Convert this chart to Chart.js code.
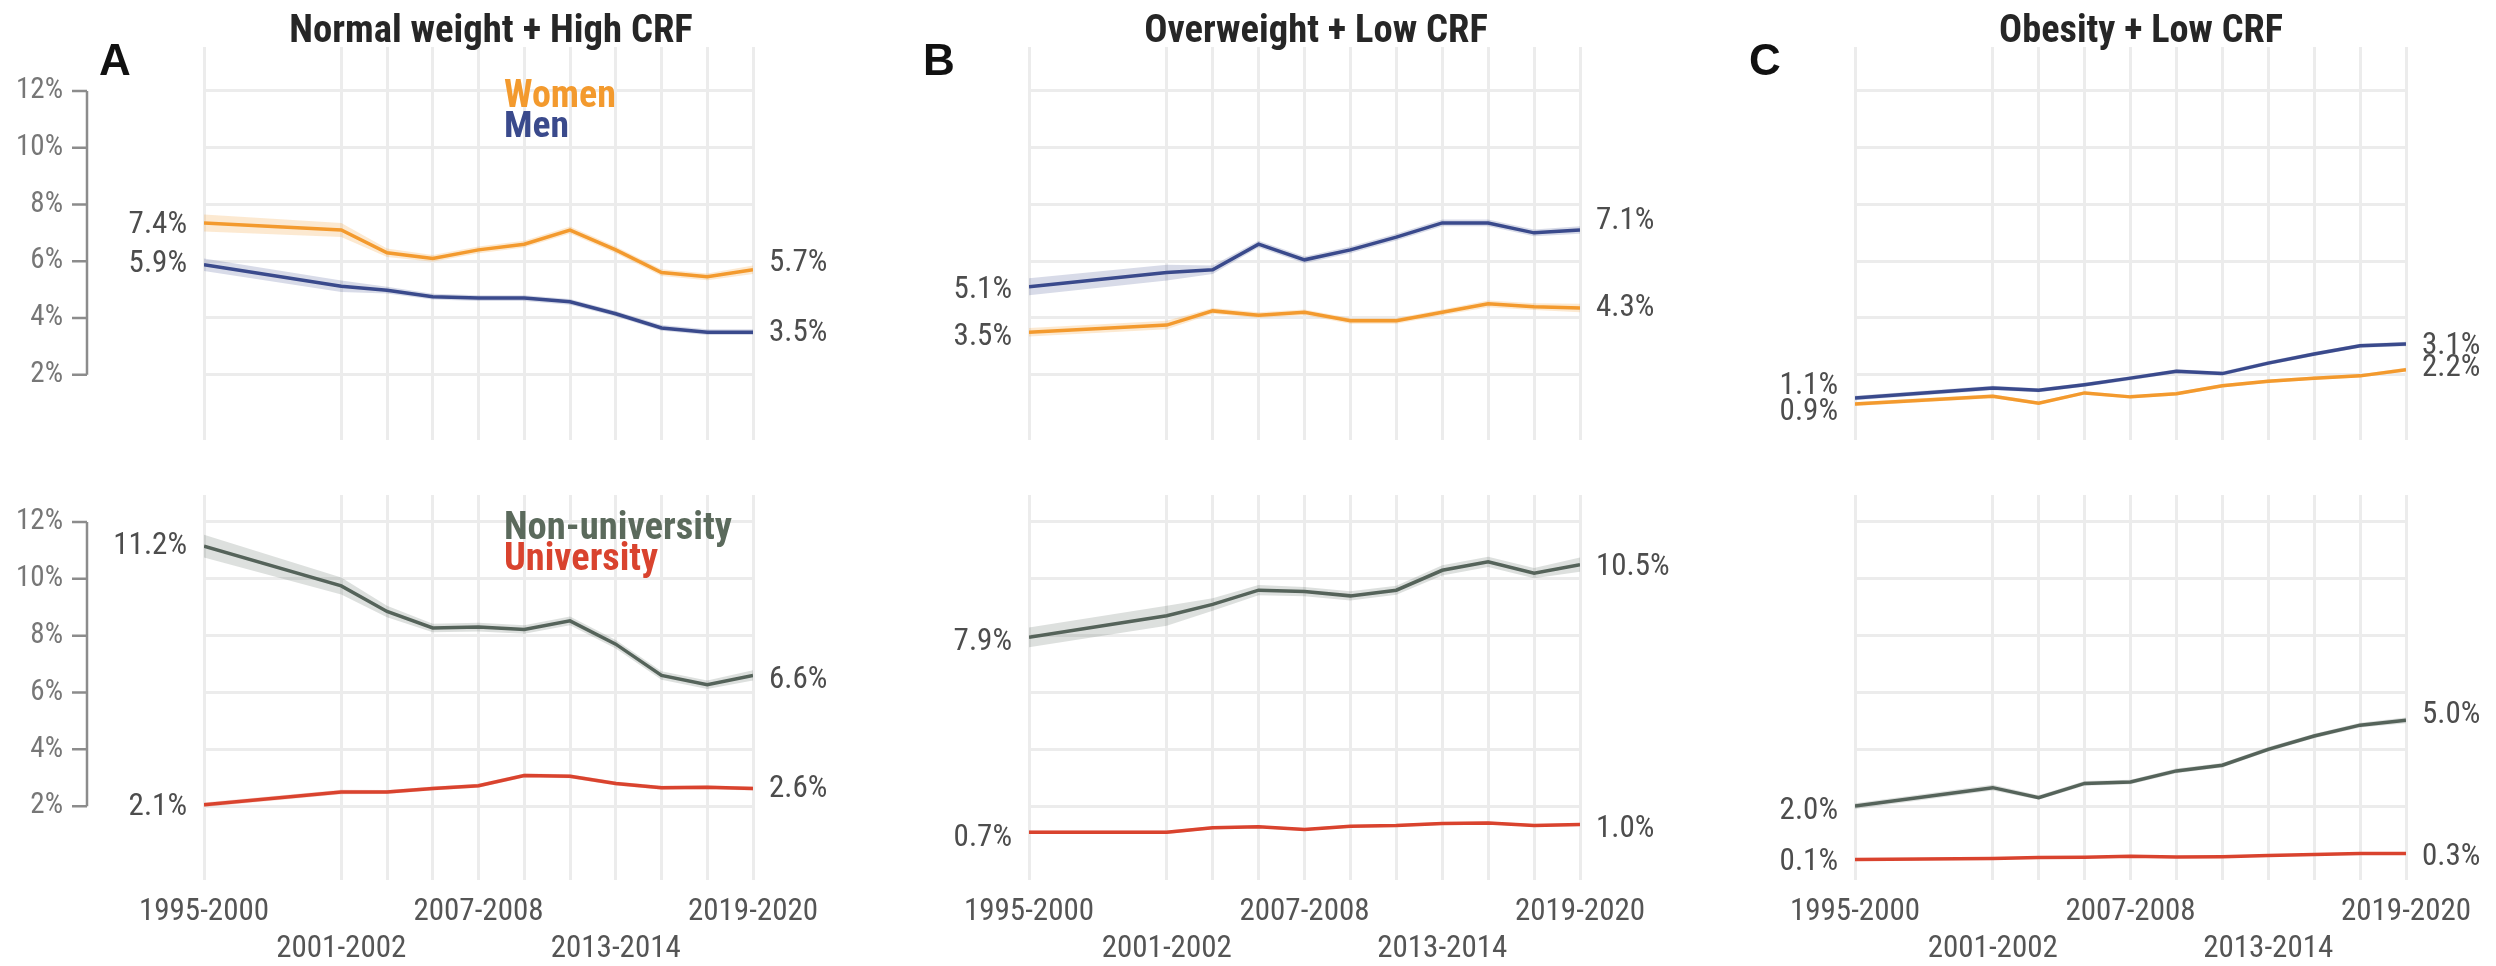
<!DOCTYPE html>
<html>
<head>
<meta charset="utf-8">
<script src="https://cdn.jsdelivr.net/npm/chart.js@4/dist/chart.umd.min.js"></script>
<style>
  html, body { margin: 0; overflow: hidden; background: #fff; }
  body { width: 2496px; height: 966px; position: relative; font-family: 'Roboto Condensed', Roboto, sans-serif; }
  canvas { position: absolute; z-index: 0; }
  .txt { position: absolute; white-space: nowrap; line-height: 1; z-index: 2; }
  .title { font-weight: 700; color: #262626; transform: translateX(-50%); }
  .letter { font-family: 'Liberation Sans', Arial, sans-serif; font-weight: 700; font-size: 44px; color: #111; }
  .legend { font-weight: 700; }
</style>
</head>
<body>

<canvas id="a1" width="900" height="483" style="left:0;top:0"></canvas>
<canvas id="b1" width="900" height="483" style="left:832px;top:0"></canvas>
<canvas id="c1" width="900" height="483" style="left:1664px;top:0"></canvas>
<canvas id="a2" width="900" height="483" style="left:0;top:483px"></canvas>
<canvas id="b2" width="900" height="483" style="left:832px;top:483px"></canvas>
<canvas id="c2" width="900" height="483" style="left:1664px;top:483px"></canvas>

<div class="txt letter" style="left:99px;top:38px">A</div>
<div class="txt letter" style="left:923px;top:38px">B</div>
<div class="txt letter" style="left:1749px;top:38px">C</div>

<div class="txt title fit" data-w="404" data-cy="29" style="left:491px">Normal weight + High CRF</div>
<div class="txt title fit" data-w="344" data-cy="29" style="left:1316px">Overweight + Low CRF</div>
<div class="txt title fit" data-w="284" data-cy="29" style="left:2141px">Obesity + Low CRF</div>

<div class="txt legend fit" data-w="112" data-cy="93" style="left:504px;color:#f39a2e">Women</div>
<div class="txt legend fit" data-w="65" data-cy="124" style="left:504px;color:#3a4a8c">Men</div>
<div class="txt legend fit" data-w="228" data-cy="526" style="left:504px;color:#5b6a5c">Non-university</div>
<div class="txt legend fit" data-w="154" data-cy="557" style="left:504px;color:#d9432e">University</div>

<script>
// survey periods, placed on the x axis by their first year
const periods = [1995, 2001, 2003, 2005, 2007, 2009, 2011, 2013, 2015, 2017, 2019];
const tickYears = [1995, 2001, 2007, 2013, 2019];
const tickLabels = ['1995-2000', '2001-2002', '2007-2008', '2013-2014', '2019-2020'];
const tickRows = [0, 1, 0, 1, 0];
const yTicks = [2, 4, 6, 8, 10, 12];

// A: Normal weight + High CRF
const womenA = [7.35, 7.1, 6.3, 6.1, 6.4, 6.6, 7.1, 6.4, 5.6, 5.45, 5.7];
const menA = [5.88, 5.12, 4.98, 4.75, 4.7, 4.7, 4.57, 4.15, 3.65, 3.5, 3.5];
const nonUniA = [11.15, 9.75, 8.85, 8.27, 8.3, 8.22, 8.52, 7.7, 6.6, 6.27, 6.6];
const uniA = [2.05, 2.5, 2.5, 2.62, 2.72, 3.08, 3.05, 2.8, 2.65, 2.66, 2.62];
const womenA_ci = [0.3, 0.25, 0.15, 0.12, 0.12, 0.12, 0.12, 0.12, 0.12, 0.12, 0.15];
const menA_ci = [0.22, 0.2, 0.12, 0.1, 0.1, 0.1, 0.1, 0.1, 0.1, 0.1, 0.1];
const nonUniA_ci = [0.4, 0.3, 0.2, 0.15, 0.15, 0.15, 0.15, 0.15, 0.15, 0.15, 0.18];
const uniA_ci = [0.08, 0.08, 0.07, 0.07, 0.07, 0.07, 0.07, 0.07, 0.07, 0.07, 0.07];

// B: Overweight + Low CRF
const menB = [5.1, 5.6, 5.7, 6.6, 6.05, 6.4, 6.85, 7.35, 7.35, 7.0, 7.1];
const womenB = [3.5, 3.75, 4.25, 4.1, 4.2, 3.9, 3.9, 4.2, 4.5, 4.4, 4.35];
const nonUniB = [7.94, 8.7, 9.1, 9.6, 9.55, 9.4, 9.6, 10.3, 10.6, 10.2, 10.5];
const uniB = [1.08, 1.08, 1.24, 1.27, 1.18, 1.29, 1.32, 1.39, 1.41, 1.32, 1.35];
const menB_ci = [0.3, 0.28, 0.15, 0.12, 0.12, 0.12, 0.12, 0.12, 0.12, 0.12, 0.13];
const womenB_ci = [0.15, 0.15, 0.1, 0.1, 0.1, 0.1, 0.1, 0.1, 0.12, 0.12, 0.15];
const nonUniB_ci = [0.35, 0.35, 0.22, 0.18, 0.16, 0.16, 0.16, 0.18, 0.18, 0.18, 0.25];
const uniB_ci = [0.06, 0.06, 0.05, 0.05, 0.05, 0.05, 0.05, 0.05, 0.05, 0.05, 0.05];

// C: Obesity + Low CRF
const menC = [1.18, 1.53, 1.45, 1.65, 1.88, 2.12, 2.04, 2.41, 2.73, 3.02, 3.08];
const womenC = [0.97, 1.24, 1.0, 1.36, 1.22, 1.33, 1.61, 1.77, 1.88, 1.96, 2.18];
const nonUniC = [2.0, 2.65, 2.3, 2.8, 2.85, 3.24, 3.44, 4.0, 4.47, 4.85, 5.02];
const uniC = [0.12, 0.16, 0.19, 0.2, 0.24, 0.21, 0.22, 0.26, 0.3, 0.33, 0.33];
const menC_ci = [0.08, 0.08, 0.07, 0.07, 0.07, 0.07, 0.07, 0.07, 0.07, 0.07, 0.08];
const womenC_ci = [0.07, 0.07, 0.06, 0.06, 0.06, 0.06, 0.06, 0.06, 0.06, 0.06, 0.07];
const nonUniC_ci = [0.1, 0.1, 0.08, 0.08, 0.08, 0.08, 0.08, 0.08, 0.08, 0.08, 0.1];
const uniC_ci = [0.04, 0.04, 0.03, 0.03, 0.03, 0.03, 0.03, 0.03, 0.03, 0.03, 0.04];

// first / last value labels printed at the line ends
const womenA_end = ['7.4%', '5.7%'], menA_end = ['5.9%', '3.5%'];
const nonUniA_end = ['11.2%', '6.6%'], uniA_end = ['2.1%', '2.6%'];
const menB_end = ['5.1%', '7.1%'], womenB_end = ['3.5%', '4.3%'];
const nonUniB_end = ['7.9%', '10.5%'], uniB_end = ['0.7%', '1.0%'];
const menC_end = ['1.1%', '3.1%'], womenC_end = ['0.9%', '2.2%'];
const nonUniC_end = ['2.0%', '5.0%'], uniC_end = ['0.1%', '0.3%'];

// styling
const colors = {
  women: { line: '#f39a2e', band: 'rgba(243,154,46,0.22)' },
  men: { line: '#3a4a8c', band: 'rgba(58,74,140,0.20)' },
  nonUni: { line: '#55635a', band: 'rgba(85,99,90,0.20)' },
  uni: { line: '#d9432e', band: 'rgba(217,67,46,0.22)' }
};
const gridColor = '#ececec';
const font = "'Roboto Condensed', Roboto, sans-serif";
const plotLeft = [204, 197, 191];
const plotRightPad = [147, 152, 158];
const rowGeom = [
  { padTop: 47, xHeight: 43, min: -0.3, max: 13.55 },
  { padTop: 12, xHeight: 86, min: -0.6, max: 12.95 }
];
// vertical shifts of the end labels (px) so they do not collide
const nudges = {
  womenA: [2, -6], menA: [0, 1], nonUniA: [0, 5], uniA: [3, 1],
  menB: [3, -9], womenB: [5, 0], nonUniB: [5, 3], uniB: [6, 5],
  menC: [-12, 2], womenC: [8, -1], nonUniC: [5, -5], uniC: [3, 4]
};

// size each heading so it spans the width it has in the figure
document.querySelectorAll('.fit').forEach(el => {
  el.style.fontSize = '40px';
  const size = 40 * (+el.dataset.w) / el.getBoundingClientRect().width;
  el.style.fontSize = size.toFixed(1) + 'px';
  el.style.top = (+el.dataset.cy - 0.486 * size).toFixed(1) + 'px';
});

const endLabels = {
  id: 'endLabels',
  afterDatasetsDraw(chart) {
    const ctx = chart.ctx;
    ctx.save();
    ctx.font = '31px ' + font;
    ctx.fillStyle = '#4d4d4d';
    ctx.textBaseline = 'middle';
    chart.data.datasets.forEach((ds, i) => {
      if (!ds.endText) return;
      const pts = chart.getDatasetMeta(i).data;
      const first = pts[0], last = pts[pts.length - 1];
      ctx.textAlign = 'right';
      ctx.fillText(ds.endText[0], first.x - 17, first.y + ds.nudge[0]);
      ctx.textAlign = 'left';
      ctx.fillText(ds.endText[1], last.x + 16, last.y + ds.nudge[1]);
    });
    ctx.restore();
  }
};

// detached y axis line with ticks, only on the left column
const bracketAxis = {
  id: 'bracketAxis',
  afterDraw(chart, args, opts) {
    if (!opts.show) return;
    const y = chart.scales.y, ctx = chart.ctx;
    const top = y.getPixelForValue(yTicks[yTicks.length - 1]);
    const bot = y.getPixelForValue(yTicks[0]);
    ctx.save();
    ctx.strokeStyle = '#8c8c8c';
    ctx.lineWidth = 2.5;
    ctx.beginPath();
    ctx.moveTo(87, top);
    ctx.lineTo(87, bot);
    yTicks.forEach(v => {
      const p = y.getPixelForValue(v);
      ctx.moveTo(72, p);
      ctx.lineTo(87, p);
    });
    ctx.stroke();
    ctx.restore();
  }
};

function buildDatasets(series) {
  const lines = [], bands = [];
  series.forEach(s => {
    lines.push({
      data: s.values.map((v, i) => ({ x: periods[i], y: v })),
      borderColor: s.color.line, borderWidth: 3.5, pointRadius: 0,
      tension: 0, fill: false, order: 0, endText: s.end, nudge: s.nudge
    });
    bands.push({
      data: s.values.map((v, i) => ({ x: periods[i], y: v + s.ci[i] })),
      borderWidth: 0, pointRadius: 0, tension: 0, fill: false, order: 1
    });
    bands.push({
      data: s.values.map((v, i) => ({ x: periods[i], y: v - s.ci[i] })),
      borderWidth: 0, pointRadius: 0, tension: 0, fill: '-1',
      backgroundColor: s.color.band, order: 1
    });
  });
  return lines.concat(bands);
}

function makePanel(id, col, row, series) {
  const g = rowGeom[row];
  new Chart(document.getElementById(id), {
    type: 'line',
    data: { datasets: buildDatasets(series) },
    plugins: [endLabels, bracketAxis],
    options: {
      responsive: false,
      animation: false,
      devicePixelRatio: 1,
      layout: { padding: { top: g.padTop, right: plotRightPad[col], left: 0, bottom: 0 } },
      plugins: {
        legend: { display: false },
        tooltip: { enabled: false },
        bracketAxis: { show: col === 0 }
      },
      scales: {
        x: {
          type: 'linear', min: periods[0], max: periods[periods.length - 1],
          afterBuildTicks: s => { s.ticks = periods.map(v => ({ value: v })); },
          afterFit: s => { s.height = g.xHeight; },
          grid: { color: gridColor, lineWidth: 3, drawTicks: false },
          border: { display: false },
          ticks: {
            display: row === 1, autoSkip: false, maxRotation: 0, minRotation: 0,
            padding: 14, color: '#555',
            font: { family: font, size: 31, lineHeight: '37px' },
            callback: v => {
              const i = tickYears.indexOf(v);
              if (i < 0) return '';
              return tickRows[i] ? ['', tickLabels[i]] : tickLabels[i];
            }
          }
        },
        y: {
          type: 'linear', min: g.min, max: g.max,
          afterBuildTicks: s => { s.ticks = yTicks.map(v => ({ value: v })); },
          // fixed width, and no extra top/bottom padding from the wide label gap
          afterFit: s => { s.width = plotLeft[col]; s.paddingTop = 0; s.paddingBottom = 0; },
          grid: { color: gridColor, lineWidth: 3, drawTicks: false },
          border: { display: false },
          ticks: {
            display: col === 0, padding: 141, color: '#777',
            font: { family: font, size: 29 },
            callback: v => v + '%'
          }
        }
      }
    }
  });
}

makePanel('a1', 0, 0, [
  { values: womenA, ci: womenA_ci, color: colors.women, end: womenA_end, nudge: nudges.womenA },
  { values: menA, ci: menA_ci, color: colors.men, end: menA_end, nudge: nudges.menA }
]);
makePanel('a2', 0, 1, [
  { values: nonUniA, ci: nonUniA_ci, color: colors.nonUni, end: nonUniA_end, nudge: nudges.nonUniA },
  { values: uniA, ci: uniA_ci, color: colors.uni, end: uniA_end, nudge: nudges.uniA }
]);
makePanel('b1', 1, 0, [
  { values: menB, ci: menB_ci, color: colors.men, end: menB_end, nudge: nudges.menB },
  { values: womenB, ci: womenB_ci, color: colors.women, end: womenB_end, nudge: nudges.womenB }
]);
makePanel('b2', 1, 1, [
  { values: nonUniB, ci: nonUniB_ci, color: colors.nonUni, end: nonUniB_end, nudge: nudges.nonUniB },
  { values: uniB, ci: uniB_ci, color: colors.uni, end: uniB_end, nudge: nudges.uniB }
]);
makePanel('c1', 2, 0, [
  { values: menC, ci: menC_ci, color: colors.men, end: menC_end, nudge: nudges.menC },
  { values: womenC, ci: womenC_ci, color: colors.women, end: womenC_end, nudge: nudges.womenC }
]);
makePanel('c2', 2, 1, [
  { values: nonUniC, ci: nonUniC_ci, color: colors.nonUni, end: nonUniC_end, nudge: nudges.nonUniC },
  { values: uniC, ci: uniC_ci, color: colors.uni, end: uniC_end, nudge: nudges.uniC }
]);
</script>
</body>
</html>
